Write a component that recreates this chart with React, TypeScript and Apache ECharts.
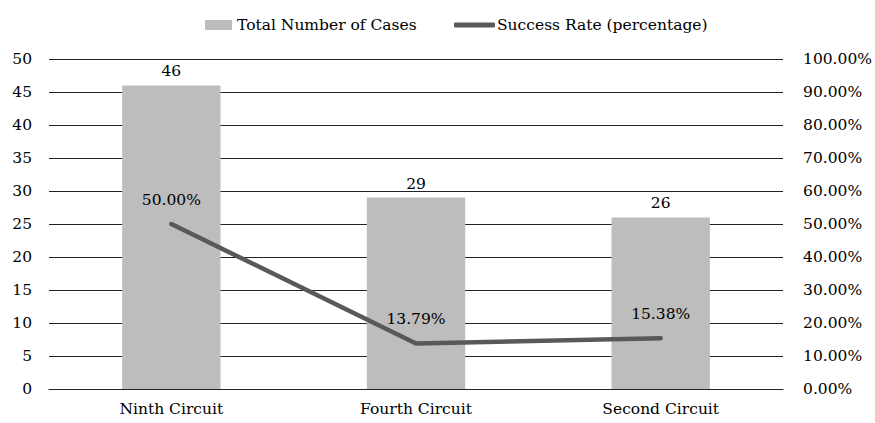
import React, { useEffect, useRef } from "react";
import * as echarts from "echarts";

const categories = ["Ninth Circuit", "Fourth Circuit", "Second Circuit"];
const totalCases = [46, 29, 26];
const successRate = [50.0, 13.79, 15.38];
const leftTicks = { min: 0, max: 50, interval: 5 };
const rightTicks = { min: 0, max: 100, interval: 10 };

const FONT = "DejaVu Serif";
const FS = 15.5;

export default function App() {
  const ref = useRef<HTMLDivElement>(null);
  useEffect(() => {
    if (!ref.current) return;
    const chart = echarts.init(ref.current, null, { renderer: "svg" });
    chart.setOption({
      animation: false,
      textStyle: { fontFamily: FONT, color: "#000" },
      legend: [
        {
          data: [{ name: "Total Number of Cases", icon: "rect" }],
          left: 200,
          top: 12,
          itemWidth: 27,
          itemHeight: 10,
          itemGap: 5,
          textStyle: { fontFamily: FONT, fontSize: FS, color: "#000" },
        },
        {
          data: [{ name: "Success Rate (percentage)", icon: "roundRect" }],
          left: 449,
          top: 12,
          itemWidth: 41,
          itemHeight: 5,
          textStyle: { fontFamily: FONT, fontSize: FS, color: "#000", padding: [0, 0, 0, -3] },
        },
      ],
      grid: { left: 49, right: 87, top: 59, bottom: 34, containLabel: false },
      xAxis: {
        type: "category",
        data: categories,
        axisTick: { show: false },
        axisLine: { show: true, lineStyle: { color: "#222", width: 1 } },
        axisLabel: { fontFamily: FONT, fontSize: FS, color: "#000", margin: 12 },
      },
      yAxis: [
        {
          type: "value",
          ...leftTicks,
          axisLine: { show: false },
          axisTick: { show: false },
          splitLine: { lineStyle: { color: "#222", width: 1 } },
          axisLabel: { fontFamily: FONT, fontSize: FS, color: "#000", margin: 17 },
        },
        {
          type: "value",
          ...rightTicks,
          position: "right",
          axisLine: { show: false },
          axisTick: { show: false },
          splitLine: { show: false },
          axisLabel: {
            fontFamily: FONT,
            fontSize: FS,
            color: "#000",
            margin: 20,
            formatter: (v: number) => v.toFixed(2) + "%",
          },
        },
      ],
      series: [
        {
          name: "Total Number of Cases",
          type: "bar",
          data: totalCases,
          barWidth: "40.2%",
          itemStyle: { color: "#bdbdbd" },
          label: {
            show: true,
            position: "top",
            distance: 6,
            fontFamily: FONT,
            fontSize: FS,
            color: "#000",
          },
          z: 1,
        },
        {
          name: "Success Rate (percentage)",
          type: "line",
          yAxisIndex: 1,
          data: successRate,
          symbol: "circle",
          symbolSize: 1,
          showSymbol: true,
          lineStyle: { color: "#595959", width: 4.5, cap: "round", join: "round" },
          itemStyle: { color: "#595959" },
          label: {
            show: true,
            position: "top",
            distance: 16,
            fontFamily: FONT,
            fontSize: FS,
            color: "#000",
            formatter: (p: any) => p.value.toFixed(2) + "%",
          },
          labelLayout: { hideOverlap: false },
          z: 3,
        },
      ],
    });
    return () => chart.dispose();
  }, []);
  return <div ref={ref} style={{ width: 875, height: 423, position: "absolute", left: 0, top: 0 }} />;
}
